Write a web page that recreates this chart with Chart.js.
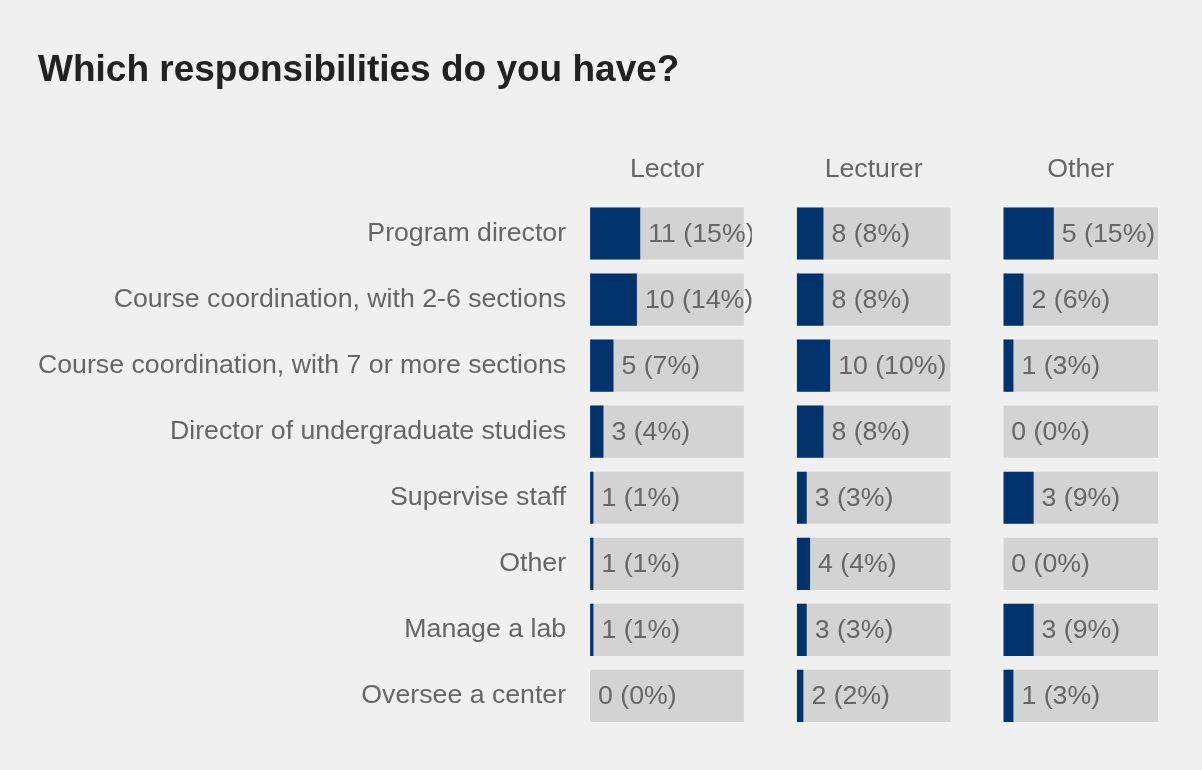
<!DOCTYPE html>
<html lang="en">
<head>
    <meta charset="UTF-8">
    <title>Which responsibilities do you have?</title>
    <script src="https://cdn.jsdelivr.net/npm/chart.js@4/dist/chart.umd.min.js"></script>
    <style>
        html, body{
            margin: 0;
            padding: 0;
            background: #f0f0f0;
        }
        .wrap{
            width: 1202px;
            height: 770px;
        }
    </style>
</head>
<body>
    <div class="wrap">
        <canvas id="chartCanvas"></canvas>
    </div>

    <script>
        // data
        var responsibilities = [
            'Program director',
            'Course coordination, with 2-6 sections',
            'Course coordination, with 7 or more sections',
            'Director of undergraduate studies',
            'Supervise staff',
            'Other',
            'Manage a lab',
            'Oversee a center'
        ];
        var groups = ['Lector', 'Lecturer', 'Other'];
        var lectorCounts = [11, 10, 5, 3, 1, 1, 1, 0];
        var lectorPct = [15, 14, 7, 4, 1, 1, 1, 0];
        var lecturerCounts = [8, 8, 10, 8, 3, 4, 3, 2];
        var lecturerPct = [8, 8, 10, 8, 3, 4, 3, 2];
        var otherCounts = [5, 2, 1, 0, 3, 0, 3, 1];
        var otherPct = [15, 6, 3, 0, 9, 0, 9, 3];
        var trackMax = 46;

        var navy = '#00336b';
        var track = '#d3d3d3';
        var textGrey = '#666666';
        var fontFamily = '"Liberation Sans", Arial, sans-serif';
        var labelSize = 26.7;

        var panels = [
            {id: 'xLector', name: groups[0], counts: lectorCounts, pct: lectorPct, max: 61.8, weight: 207},
            {id: 'xLecturer', name: groups[1], counts: lecturerCounts, pct: lecturerPct, max: 61.8, weight: 207},
            {id: 'xOther', name: groups[2], counts: otherCounts, pct: otherPct, max: 53.1, weight: 179}
        ];

        var datasets = [];
        var scales = {};
        panels.forEach(function(p, k){
            datasets.push({
                label: p.name,
                data: p.pct,
                counts: p.counts,
                xAxisID: p.id,
                backgroundColor: navy,
                order: 1,
                isValue: true
            });
            datasets.push({
                label: p.name + ' track',
                data: responsibilities.map(function(){ return trackMax; }),
                xAxisID: p.id,
                backgroundColor: track,
                order: 2
            });
            scales[p.id] = {
                axis: 'x',
                type: 'linear',
                position: 'top',
                stack: 'panels',
                stackWeight: p.weight,
                // top boxes are laid out heaviest first
                weight: panels.length - 1 - k,
                min: 0,
                max: p.max,
                grid: {display: false, drawTicks: false},
                border: {display: false},
                afterBuildTicks: function(scale){
                    scale.ticks = [{value: trackMax / 2}];
                },
                ticks: {
                    padding: 15,
                    color: textGrey,
                    font: {family: fontFamily, size: labelSize},
                    maxRotation: 0,
                    callback: function(){ return p.name; }
                }
            };
        });
        scales.y = {
            type: 'category',
            position: 'left',
            grid: {display: false, drawTicks: false},
            border: {display: false},
            // width = widest label + padding, nothing more
            afterFit: function(scale){
                var c = scale.ctx;
                c.save();
                c.font = labelSize + 'px ' + fontFamily;
                var widest = 0;
                responsibilities.forEach(function(t){
                    widest = Math.max(widest, c.measureText(t).width);
                });
                c.restore();
                scale.width = widest + scale.options.ticks.padding;
            },
            ticks: {
                padding: 24,
                color: textGrey,
                font: {family: fontFamily, size: labelSize}
            }
        };

        // "n (p%)" text right after each navy bar, cut at the panel edge
        var valueLabels = {
            id: 'valueLabels',
            afterDatasetsDraw: function(chart){
                var ctx = chart.ctx;
                chart.data.datasets.forEach(function(ds, di){
                    if(!ds.isValue) return;
                    var meta = chart.getDatasetMeta(di);
                    var xs = chart.scales[ds.xAxisID];
                    ctx.save();
                    ctx.beginPath();
                    ctx.rect(xs.left, chart.chartArea.top, xs.getPixelForValue(trackMax) + 8 - xs.left, chart.chartArea.bottom - chart.chartArea.top);
                    ctx.clip();
                    ctx.font = labelSize + 'px ' + fontFamily;
                    ctx.fillStyle = textGrey;
                    ctx.textAlign = 'left';
                    ctx.textBaseline = 'middle';
                    meta.data.forEach(function(bar, i){
                        ctx.fillText(ds.counts[i] + ' (' + ds.data[i] + '%)', bar.x + 8, bar.y + 1);
                    });
                    ctx.restore();
                });
            }
        };

        const ctx = document.getElementById('chartCanvas').getContext('2d');
        const chart = new Chart(ctx, {
            type: 'bar',
            data: {
                labels: responsibilities,
                datasets: datasets
            },
            options: {
                indexAxis: 'y',
                responsive: true,
                maintainAspectRatio: false,
                animation: false,
                grouped: false,
                barPercentage: 0.79,
                categoryPercentage: 1,
                layout: {
                    padding: {left: 38, right: 20, top: 0, bottom: 41}
                },
                plugins: {
                    legend: {display: false},
                    tooltip: {enabled: false},
                    title: {
                        display: true,
                        text: 'Which responsibilities do you have?',
                        align: 'start',
                        color: '#222222',
                        font: {family: fontFamily, size: 37, weight: 'bold'},
                        padding: {top: 49, bottom: 45}
                    }
                },
                scales: scales
            },
            plugins: [valueLabels]
        });
    </script>
</body>
</html>
